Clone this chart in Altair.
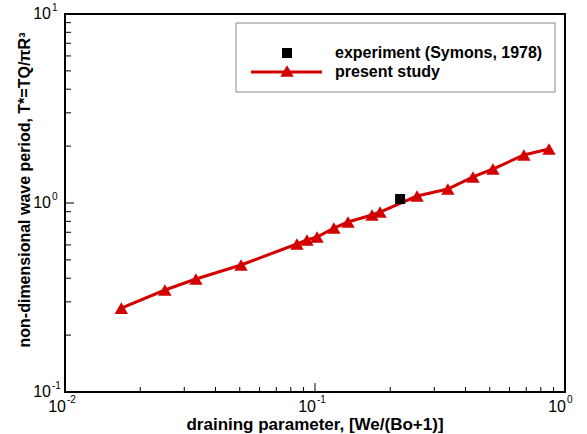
import altair as alt
import pandas as pd

# present study (line + triangles)
study_x = [0.0168, 0.0251, 0.0334, 0.0506, 0.0847, 0.0929, 0.1019, 0.119, 0.1355,
           0.169, 0.182, 0.256, 0.340, 0.4285, 0.515, 0.685, 0.863]
study_y = [0.278, 0.3465, 0.396, 0.470, 0.607, 0.637, 0.661, 0.737, 0.793,
           0.864, 0.896, 1.089, 1.186, 1.373, 1.513, 1.795, 1.931]
# experiment (Symons, 1978)
exp_x = [0.219]
exp_y = [1.05]

legend_labels = ["experiment (Symons, 1978)", "present study"]
x_title = "draining parameter, [We/(Bo+1)]"
y_title = "non-dimensional wave period, T*=TQ/πR³"

x_major = [0.01, 0.1, 1.0]
x_exp = ["-2", "-1", "0"]
x_minor = [0.02, 0.03, 0.04, 0.05, 0.06, 0.07, 0.08, 0.09,
           0.2, 0.3, 0.4, 0.5, 0.6, 0.7, 0.8, 0.9]
y_major = [0.1, 1.0, 10.0]
y_exp = ["-1", "0", "1"]
y_minor = [0.2, 0.3, 0.4, 0.5, 0.6, 0.7, 0.8, 0.9,
           2, 3, 4, 5, 6, 7, 8, 9]

W, H = 500, 378
RED = "#d20000"
FONT = "Liberation Sans"

xs = alt.Scale(type="log", domain=[0.01, 1], nice=False)
ys = alt.Scale(type="log", domain=[0.1, 10], nice=False)

study = pd.DataFrame({"x": study_x, "y": study_y})
exp = pd.DataFrame({"x": exp_x, "y": exp_y})

X = lambda: alt.X("x:Q", scale=xs, axis=None)
Y = lambda: alt.Y("y:Q", scale=ys, axis=None)

line = alt.Chart(study).mark_line(color=RED, strokeWidth=3).encode(x=X(), y=Y())
tri = alt.Chart(study).mark_point(shape="triangle-up", filled=True, color=RED, size=180, opacity=1).encode(x=X(), y=Y())
sq = alt.Chart(exp).mark_point(shape="square", filled=True, color="black", size=100, opacity=1).encode(x=X(), y=Y())

def xticks(vals, ln):
    return alt.Chart(pd.DataFrame({"x": vals})).mark_rule(color="black", strokeWidth=1).encode(
        x=X(), y=alt.value(H), y2=alt.value(H - ln))

def yticks(vals, ln):
    return alt.Chart(pd.DataFrame({"y": vals})).mark_rule(color="black", strokeWidth=1).encode(
        y=Y(), x=alt.value(0), x2=alt.value(ln))

# tick labels: "10" with superscript exponent
xl = pd.DataFrame({"x": x_major, "e": x_exp})
yl = pd.DataFrame({"y": y_major, "e": y_exp})
x_base = alt.Chart(xl).mark_text(align="right", baseline="middle", font=FONT, fontSize=16,
                                 color="black", text="10", dx=1).encode(x=X(), y=alt.value(H + 14.5))
x_sup = alt.Chart(xl).mark_text(align="left", baseline="middle", font=FONT, fontSize=10,
                                color="black", dx=2).encode(x=X(), y=alt.value(H + 8), text="e:N")
y_base = alt.Chart(yl).mark_text(align="right", baseline="middle", font=FONT, fontSize=16,
                                 color="black", text="10").encode(y=Y(), x=alt.value(-14))
y_sup = alt.Chart(yl).mark_text(align="left", baseline="middle", font=FONT, fontSize=10,
                                color="black", dy=-6).encode(y=Y(), x=alt.value(-13), text="e:N")

one = pd.DataFrame({"a": [0]})
xt = alt.Chart(one).mark_text(align="center", baseline="alphabetic", font=FONT, fontSize=17,
                              fontWeight="bold", color="black", text=x_title).encode(
    x=alt.value(W / 2), y=alt.value(H + 38))
yt = alt.Chart(one).mark_text(align="center", baseline="middle", font=FONT, fontSize=16, angle=270,
                              fontWeight="bold", color="black", text=y_title).encode(
    x=alt.value(-40), y=alt.value(176))

# legend
leg_box = alt.Chart(one).mark_rect(fill="white", stroke="#888888", strokeWidth=1).encode(
    x=alt.value(171), x2=alt.value(490), y=alt.value(9), y2=alt.value(78))
leg_sq = alt.Chart(one).mark_point(shape="square", filled=True, color="black", size=100, opacity=1).encode(
    x=alt.value(222), y=alt.value(39))
leg_line = alt.Chart(one).mark_rule(color=RED, strokeWidth=3).encode(
    x=alt.value(186), x2=alt.value(257), y=alt.value(58))
leg_tri = alt.Chart(one).mark_point(shape="triangle-up", filled=True, color=RED, size=180, opacity=1).encode(
    x=alt.value(222), y=alt.value(57))
leg_t1 = alt.Chart(one).mark_text(align="left", baseline="middle", font=FONT, fontSize=16,
                                  fontWeight="bold", color="black", text=legend_labels[0]).encode(
    x=alt.value(270), y=alt.value(39))
leg_t2 = alt.Chart(one).mark_text(align="left", baseline="middle", font=FONT, fontSize=16,
                                  fontWeight="bold", color="black", text=legend_labels[1]).encode(
    x=alt.value(270), y=alt.value(58))

chart = alt.layer(
    line, tri, sq,
    xticks(x_major, 9), xticks(x_minor, 5), yticks(y_major, 9), yticks(y_minor, 6),
    x_base, x_sup, y_base, y_sup, xt, yt,
    leg_box, leg_line, leg_tri, leg_sq, leg_t1, leg_t2,
).properties(
    width=W, height=H,
    autosize=alt.AutoSizeParams(type="none"),
    padding={"left": 65, "top": 14, "right": 22, "bottom": 42},
    background="white",
).configure_view(stroke="black", strokeWidth=2)

chart.save("out.html", embed_options={"renderer": "svg", "actions": False})
